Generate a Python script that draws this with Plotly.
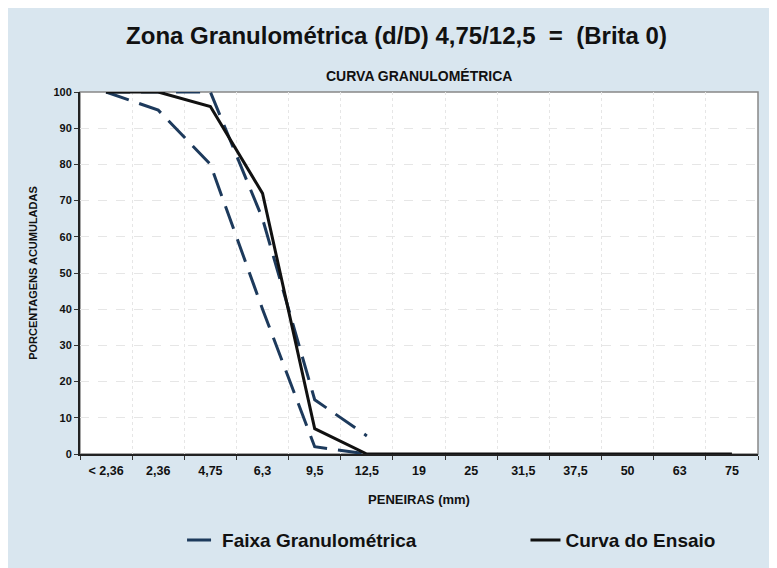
import plotly.graph_objects as go

peneiras = ["< 2,36", "2,36", "4,75", "6,3", "9,5", "12,5", "19", "25", "31,5", "37,5", "50", "63", "75"]
curva_ensaio = [100, 100, 96, 72, 7, 0, 0, 0, 0, 0, 0, 0, 0]
faixa_inferior = [100, 95, 80, 40, 2, 0]
faixa_superior = [100, 100, 100, 65, 15, 5]

FONT = "Liberation Sans Narrow, Arial Narrow, Liberation Sans, Arial, sans-serif"
BG = "#d9e6ef"
NAVY = "#1d3a5c"

fig = go.Figure()

fig.add_trace(go.Scatter(
    x=peneiras[:len(faixa_inferior)], y=faixa_inferior, mode="lines",
    name="<b>Faixa Granulométrica</b>", legendgroup="faixa", legend="legend",
    line=dict(color=NAVY, width=3, dash="24px,11px"),
))
fig.add_trace(go.Scatter(
    x=peneiras[:len(faixa_superior)], y=faixa_superior, mode="lines",
    name="<b>Faixa Granulométrica</b>", legendgroup="faixa", showlegend=False,
    line=dict(color=NAVY, width=3, dash="24px,11px"),
))
fig.add_trace(go.Scatter(
    x=peneiras, y=curva_ensaio, mode="lines",
    name="<b>Curva do Ensaio</b>", legend="legend2",
    line=dict(color="#111111", width=3),
))

legend_style = dict(
    orientation="h", xanchor="left", xref="container",
    yref="container", y=0.063, yanchor="middle",
    font=dict(size=19, family=FONT), bgcolor="rgba(0,0,0,0)",
)

fig.update_layout(
    width=777, height=568,
    paper_bgcolor=BG, plot_bgcolor="white",
    margin=dict(l=72, r=27, t=84, b=122, autoexpand=False),
    font=dict(family=FONT, color="#111111"),
    title=dict(
        text="<b>Zona Granulométrica (d/D) 4,75/12,5  =  (Brita 0)</b>",
        x=0.5, xanchor="center", y=0.952, yanchor="middle",
        font=dict(size=24, family=FONT),
    ),
    showlegend=True,
    legend=dict(x=0.224, **legend_style),
    legend2=dict(x=0.666, **legend_style),
    annotations=[dict(
        text="<b>CURVA GRANULOMÉTRICA</b>", xref="paper", yref="paper",
        x=0.5, y=1.045, xanchor="center", yanchor="middle", showarrow=False,
        font=dict(size=14, family=FONT),
    )],
    shapes=[dict(
        type="rect", xref="paper", yref="paper", x0=0, x1=1, y0=0, y1=1,
        line=dict(color="#888888", width=1.5), layer="below",
    )],
)

fig.update_xaxes(
    type="category", categoryorder="array", categoryarray=peneiras,
    range=[-0.5, len(peneiras) - 0.5],
    tickson="boundaries", ticks="outside", ticklen=4, tickcolor="#333333",
    showgrid=True, gridcolor="#e6e6e6", griddash="dot", gridwidth=1,
    showline=True, linecolor="#222222", linewidth=2,
    tickfont=dict(size=12.5, family=FONT), ticklabelstandoff=4,
    title=dict(text="<b>PENEIRAS (mm)</b>", font=dict(size=13, family=FONT), standoff=18),
    tickprefix="<b>", ticksuffix="</b>",
)
fig.update_yaxes(
    range=[0, 100], dtick=10, ticks="outside", ticklen=4, tickcolor="#333333",
    showgrid=True, gridcolor="#e6e6e6", griddash="dash", gridwidth=1,
    showline=True, linecolor="#222222", linewidth=2, zeroline=False,
    tickfont=dict(size=11, family=FONT),
    tickprefix="<b>", ticksuffix="</b>",
    title=dict(text="<b>PORCENTAGENS ACUMULADAS</b>", font=dict(size=11, family=FONT), standoff=14),
)

fig.write_html("out.html")
